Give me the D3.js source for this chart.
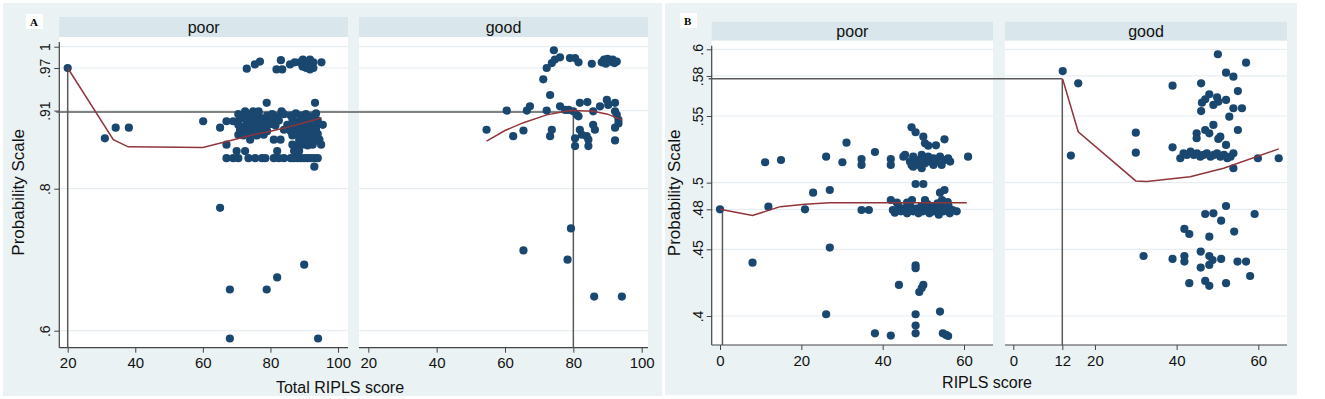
<!DOCTYPE html>
<html>
<head>
<meta charset="utf-8">
<script src="https://cdn.jsdelivr.net/npm/d3@7"></script>
<style>
  body { margin: 0; background: #ffffff; }
  svg text { font-family: "Liberation Sans", Arial, sans-serif; }
</style>
</head>
<body>
<div id="chart"></div>
<script>
// PLOT DEFAULTS
const SVG_WIDTH = 1325;
const SVG_HEIGHT = 399;
const BG_COLOR = '#eaf2f3';
const STRIP_COLOR = '#d9e6eb';
const GRID_COLOR = '#e6eef1';
const MARKER_COLOR = '#1a476f';
const FIT_COLOR = '#90353b';
const REF_COLOR = '#5a5a5a';

// DATA //
// panel A: total RIPLS score vs probability, by facet
const aXTicks = [20, 40, 60, 80, 100];
const aYTicks = [0.6, 0.8, 0.91, 0.97, 1];
const aPoor = [
  [20, .97], [31, .871], [34.2, .886], [38.1, .886], [60.1, .895], [65.1, .886], [67, .895], [69, .895],
  [73, .969], [75.4, .975], [76.9, .979], [81.8, .968], [83.5, .968], [83.1, .981], [85.8, .975],
  [87.2, .978], [88.7, .978], [89.6, .982], [90.6, .975], [91.7, .982], [92.7, .978], [90.6, .97],
  [91.7, .968], [92.7, .97], [95.1, .978], [89.5, .972],
  [78.9, .921], [93.2, .921], [72.5, .909], [74.9, .909], [83.3, .909], [76.5, .909],
  [70.5, .905], [72, .903], [73.5, .905], [75, .902], [76.5, .905], [79, .903], [80.5, .905], [82, .902],
  [84, .905], [86, .903], [87.5, .906], [89, .903], [90.5, .905], [92, .902], [93.5, .906],
  [71, .898], [73, .896], [74.5, .899], [76, .896], [77.5, .898], [79, .895], [81, .898], [82.5, .896],
  [86.5, .898], [88, .895], [89.5, .898], [91, .896], [92.5, .899], [94, .896],
  [70.5, .89], [72.5, .888], [74, .891], [75.5, .889], [77, .89], [78.5, .888], [80, .891], [81.5, .889],
  [85, .89], [86.5, .888], [88, .891], [89.5, .889], [91, .89], [92.5, .888], [94, .891], [95.5, .89],
  [71, .883], [72.5, .881], [74, .884], [76, .882], [77.5, .883], [79, .881], [84, .883], [86, .881],
  [87.5, .884], [89, .882], [90.5, .883], [92, .881], [93.5, .884],
  [70.5, .876], [72, .875], [74, .877], [76, .875], [78, .876], [86.5, .875], [88, .877], [89.5, .875],
  [91, .876], [92.5, .874], [94, .877],
  [74, .869], [81, .869], [83, .869], [88.5, .869], [90, .868], [91.5, .869], [93, .867], [94.5, .869],
  [67, .862], [86.5, .862], [88, .861], [89.5, .862], [91, .861], [92.5, .862], [95, .862],
  [70, .853], [72.5, .853], [82, .853], [87, .853], [88.5, .853],
  [67, .843], [69, .843], [70.5, .843], [73.5, .843], [75.5, .843], [77.5, .843], [78.5, .843], [81, .843],
  [82.5, .843], [84, .843], [86, .843], [87, .843], [88, .843], [89, .843], [90, .843], [91, .843],
  [92, .843], [93, .843], [94, .843], [93, .831],
  [65.1, .773], [68, .658], [78.9, .658], [82, .675], [90, .693], [68, .589], [94.1, .589]
];
const aGood = [
  [54.6, .883], [62.4, .874], [65.4, .882], [60.5, .91], [66.4, .91], [67.3, .916], [72.2, .91],
  [73.2, .874], [73.7, .883], [73.2, .932], [71.2, .954], [72.2, .97], [73.7, .977], [74.6, .982],
  [76.1, .985], [74.3, .995], [79, .984], [80.5, .984], [81.5, .978], [85.4, .976],
  [88.3, .978], [89, .982], [90, .983], [90.8, .979], [91.5, .982], [92, .977], [92.7, .979], [89.5, .976],
  [76.1, .916], [77.6, .911], [78.6, .911], [80, .909], [81, .904], [81.5, .902], [81.9, .921], [84.1, .922],
  [85.8, .909], [87.8, .916], [89.8, .925], [90.2, .918], [92.2, .921],
  [92.2, .909], [92.7, .904], [93.2, .897], [93.2, .892], [92.2, .886], [92.2, .868],
  [81.9, .883], [82.5, .876], [80.5, .871], [83.9, .874], [80.5, .86], [85.8, .89], [86.3, .883],
  [84.4, .869], [84.4, .86],
  [79.3, .744], [65.4, .713], [78.3, .70], [86.1, .648], [94.2, .648]
];
const aPoorFit = [
  [20, .97], [33.5, .869], [37.9, .859], [60, .858], [65, .864], [70, .870], [74.9, .876],
  [80, .881], [83.8, .885], [90, .893], [95.1, .90]
];
const aGoodFit = [
  [54.6, .867], [60, .882], [65.4, .893], [72.2, .904], [79, .91], [85.9, .909], [90, .905], [94.2, .897]
];
// reference cut-offs drawn on panel A
const aRefY = 0.908;
const aRefXPoor = 20;
const aRefYPoor = 0.97;
const aRefXGood = 80;

// panel B: RIPLS score vs probability, by facet
const bXTicksPoor = [0, 20, 40, 60];
const bXTicksGood = [0, 12, 20, 40, 60];
const bYTicks = [0.4, 0.45, 0.48, 0.5, 0.55, 0.58, 0.6];
const bPoor = [
  [0, .48], [8, .44], [11.1, .5153], [11.9, .482], [15, .517], [20.9, .48], [22.9, .4925], [26.1, .5195],
  [26.1, .4013], [27, .4945], [27, .4513], [30.1, .5153], [31.1, .530], [34.8, .5177], [34.8, .5133],
  [34.8, .4795], [36.6, .4795], [38.1, .523], [38.1, .387], [42, .5177], [42, .5133], [42, .3853],
  [44, .4233], [45.1, .5195], [47.1, .5415], [48.1, .5378], [50, .5345], [50.4, .5295], [51.2, .5277],
  [53.1, .528], [55.2, .5325], [61, .5195], [48.1, .499], [50, .499], [54.1, .4925], [55.2, .4945],
  [48.1, .438], [48.1, .4358], [50, .4233], [49.6, .421], [49, .418], [48.1, .4013], [48.1, .3928],
  [48.1, .387], [54.1, .4033], [54.8, .387], [55.6, .3858], [56.1, .385],
  [45.5, .5208], [46.7, .5158], [47.1, .5133], [47.5, .5195], [48.4, .517], [48.8, .5133], [49.6, .5208],
  [50, .5183], [50.4, .5145], [51.2, .5195], [51.6, .5158], [52.5, .5183], [53.3, .5158], [54.1, .5195],
  [54.5, .5133], [55.3, .517], [56.1, .5183], [56.6, .5158], [47.5, .512], [49.6, .5108], [52.5, .5133],
  [42, .487], [42.5, .4795], [43, .4775], [44, .482], [44.5, .4785], [45.5, .4805], [46, .477],
  [46.8, .4825], [47.2, .487], [47.5, .4785], [48.3, .4805], [48.8, .477], [49.5, .4825], [49.9, .4785],
  [50.4, .487], [50.8, .4805], [51.5, .477], [52, .4825], [52.6, .4785], [53.2, .4805], [53.8, .476],
  [54.3, .4825], [54.6, .487], [55, .4785], [55.6, .4805], [56.2, .4825], [56.5, .477], [57.2, .4795],
  [58.2, .4785], [43.5, .485], [46, .485], [51, .484], [53.5, .4845], [56, .4855]
];
const bGood = [
  [12.1, .5837], [15.9, .5745], [14.1, .5203], [30, .5375], [30, .5225], [39, .5727], [39, .5265],
  [46, .5745], [50.1, .5963], [57, .590], [52.1, .5825], [53.9, .5795], [55, .5687],
  [48, .5663], [47, .5625], [46.2, .56], [46, .5537], [49.9, .564], [50.2, .5607], [49, .5583],
  [52.1, .562], [53.9, .5558], [56, .5558], [52.9, .5495], [49, .5433], [47, .5395], [48, .537],
  [44.9, .537], [44.9, .5333], [50.7, .5345], [50.2, .5328], [55, .5395], [52.1, .5283],
  [40.9, .5183], [41.7, .522], [42.5, .5208], [43.4, .5233], [44.2, .5208], [45, .522], [45.8, .5195],
  [46.6, .5208], [47.4, .522], [48.3, .5195], [49.1, .5208], [49.9, .522], [50.7, .5195], [51.6, .5208],
  [52.4, .5183], [53.2, .5195], [53.9, .522], [53.9, .5108], [59.9, .5183], [65, .5183],
  [52.1, .4825], [47, .4765], [49, .477], [59.1, .4765], [50.9, .4715], [41.9, .4653], [43.1, .4615],
  [54.1, .4633], [48, .4595], [31.9, .445], [39, .4428], [41.9, .445], [41.9, .4408], [45.9, .4483],
  [48, .445], [48.8, .442], [48, .4383], [50.9, .4428], [54.9, .4408], [57, .4408], [45.9, .4363],
  [58, .430], [43.1, .4246], [47, .4263], [48, .4226], [52.1, .4246]
];
const bPoorFit = [
  [0, .48], [8, .4753], [14.8, .482], [20.9, .4838], [27, .485], [42.6, .485], [60.7, .485]
];
const bGoodFit = [
  [12.1, .5775], [15.9, .5382], [30, .5013], [32.7, .5008], [43.3, .5045], [51.5, .5108], [65, .5253]
];
// reference cut-offs drawn on panel B
const bRefY = 0.578;
const bRefXPoor = 0.6;
const bRefYPoor = 0.48;
const bRefXGood = 12;

// LAYOUT //
const PANELS = [
  {
    label: 'A', labelX: 30, labelY: 26, bg: [3, 3, 659, 393],
    top: 37, bottom: 347.7, stripTop: 17,
    yDomain: [0.6, 1], yRange: [330.7, 46.7], yTicks: aYTicks,
    yTitleX: 24, xTitle: 'Total RIPLS score', xTitleX: 340, xTitleY: 393,
    facets: [
      { name: 'poor', x0: 59.3, x1: 348, xDomain: [20, 100], xRange: [67.7, 338], xTicks: aXTicks, pts: aPoor, fit: aPoorFit },
      { name: 'good', x0: 359, x1: 648, xDomain: [20, 100], xRange: [368.3, 641.7], xTicks: aXTicks, pts: aGood, fit: aGoodFit }
    ],
    ref: { y: aRefY, xPoor: aRefXPoor, yPoor: aRefYPoor, xGood: aRefXGood }
  },
  {
    label: 'B', labelX: 684, labelY: 25, bg: [665, 3, 632, 392],
    top: 40.7, bottom: 345, stripTop: 21.7,
    yDomain: [0.4, 0.6], yRange: [316, 49.3], yTicks: bYTicks,
    yTitleX: 680, xTitle: 'RIPLS score', xTitleX: 987, xTitleY: 388,
    facets: [
      { name: 'poor', x0: 711.7, x1: 993, xDomain: [0, 60], xRange: [720, 964], xTicks: bXTicksPoor, pts: bPoor, fit: bPoorFit },
      { name: 'good', x0: 1005, x1: 1287, xDomain: [0, 60], xRange: [1013.3, 1258.3], xTicks: bXTicksGood, pts: bGood, fit: bGoodFit }
    ],
    ref: { y: bRefY, xPoor: bRefXPoor, yPoor: bRefYPoor, xGood: bRefXGood }
  }
];

const svg = d3.select('#chart')
  .append('svg')
  .attr('width', SVG_WIDTH)
  .attr('height', SVG_HEIGHT);

PANELS.forEach(drawPanel);

// function to draw one lettered panel with its two facets
function drawPanel (p) {
  const g = svg.append('g');

  // graph region background
  g.append('rect')
    .attr('x', p.bg[0]).attr('y', p.bg[1])
    .attr('width', p.bg[2]).attr('height', p.bg[3])
    .attr('fill', BG_COLOR);

  const yScale = d3.scaleLinear().domain(p.yDomain).range(p.yRange);
  const xScales = p.facets.map(f => d3.scaleLinear().domain(f.xDomain).range(f.xRange));

  p.facets.forEach((f, i) => {
    const xScale = xScales[i];

    // strip with facet name
    g.append('rect')
      .attr('x', f.x0).attr('y', p.stripTop)
      .attr('width', f.x1 - f.x0).attr('height', p.top - p.stripTop)
      .attr('fill', STRIP_COLOR);
    g.append('text')
      .attr('x', (f.x0 + f.x1) / 2).attr('y', (p.stripTop + p.top) / 2)
      .attr('text-anchor', 'middle').attr('dominant-baseline', 'central')
      .attr('font-size', 16).attr('fill', '#111')
      .text(f.name);

    // white plot region
    g.append('rect')
      .attr('x', f.x0).attr('y', p.top)
      .attr('width', f.x1 - f.x0).attr('height', p.bottom - p.top)
      .attr('fill', '#ffffff');

    // horizontal gridlines
    g.append('g').selectAll('line')
      .data(p.yTicks)
      .join('line')
      .attr('x1', f.x0).attr('x2', f.x1)
      .attr('y1', d => yScale(d)).attr('y2', d => yScale(d))
      .attr('stroke', GRID_COLOR).attr('stroke-width', 1.2);

    // x axis
    const xAxis = g.append('g')
      .attr('transform', `translate(0, ${p.bottom})`)
      .call(d3.axisBottom(xScale).tickValues(f.xTicks).tickFormat(d3.format('d')).tickSize(5).tickPadding(5));
    xAxis.select('.domain').remove();
    xAxis.selectAll('line').attr('stroke', '#444');
    xAxis.selectAll('text').attr('font-size', 15).attr('fill', '#111')
      .style('font-family', '"Liberation Sans", Arial, sans-serif');
    g.append('line')
      .attr('x1', f.x0).attr('x2', f.x1)
      .attr('y1', p.bottom).attr('y2', p.bottom)
      .attr('stroke', '#444').attr('stroke-width', 1.2);
  });

  // y axis on the left facet only, labels turned like Stata does
  const left = p.facets[0];
  const yAxis = g.append('g')
    .attr('transform', `translate(${left.x0}, 0)`)
    .call(d3.axisLeft(yScale).tickValues(p.yTicks).tickFormat(d => String(d).replace(/^0/, '')).tickSize(5));
  yAxis.select('.domain').remove();
  yAxis.selectAll('line').attr('stroke', '#444');
  yAxis.selectAll('text')
    .attr('transform', 'rotate(-90)')
    .attr('x', 0).attr('y', -9).attr('dy', 0)
    .attr('text-anchor', 'middle')
    .attr('font-size', 14).attr('fill', '#111')
    .style('font-family', '"Liberation Sans", Arial, sans-serif');
  g.append('line')
    .attr('x1', left.x0).attr('x2', left.x0)
    .attr('y1', p.top + 5).attr('y2', p.bottom)
    .attr('stroke', '#444').attr('stroke-width', 1.2);

  // reference cut-off lines
  const xPoor = xScales[0];
  const xGood = xScales[1];
  const refs = [
    [left.x0 - 3, yScale(p.ref.y), xGood(p.ref.xGood), yScale(p.ref.y)],
    [xGood(p.ref.xGood), yScale(p.ref.y), xGood(p.ref.xGood), p.bottom],
    [xPoor(p.ref.xPoor), yScale(p.ref.yPoor), xPoor(p.ref.xPoor), p.bottom]
  ];
  g.append('g').selectAll('line')
    .data(refs)
    .join('line')
    .attr('x1', d => d[0]).attr('y1', d => d[1])
    .attr('x2', d => d[2]).attr('y2', d => d[3])
    .attr('stroke', REF_COLOR).attr('stroke-width', 1.5);

  // scatter and fitted lines
  p.facets.forEach((f, i) => {
    const xScale = xScales[i];
    g.append('g').selectAll('circle')
      .data(f.pts)
      .join('circle')
      .attr('cx', d => xScale(d[0]))
      .attr('cy', d => yScale(d[1]))
      .attr('r', 4.1)
      .attr('fill', MARKER_COLOR);

    const line = d3.line().x(d => xScale(d[0])).y(d => yScale(d[1]));
    g.append('path')
      .datum(f.fit)
      .attr('d', line)
      .attr('fill', 'none')
      .attr('stroke', FIT_COLOR)
      .attr('stroke-width', 1.5);
  });

  // axis titles
  g.append('text')
    .attr('transform', `translate(${p.yTitleX}, ${(p.top + p.bottom) / 2}) rotate(-90)`)
    .attr('text-anchor', 'middle')
    .attr('font-size', 17).attr('fill', '#111')
    .text('Probability Scale');
  g.append('text')
    .attr('x', p.xTitleX).attr('y', p.xTitleY)
    .attr('text-anchor', 'middle')
    .attr('font-size', 16).attr('fill', '#111')
    .text(p.xTitle);

  // panel letter in its small white box
  g.append('rect')
    .attr('x', p.labelX - 4).attr('y', p.labelY - 12)
    .attr('width', 17).attr('height', 15)
    .attr('fill', '#ffffff');
  g.append('text')
    .attr('x', p.labelX).attr('y', p.labelY)
    .attr('font-size', 11).attr('font-weight', 'bold')
    .style('font-family', '"Liberation Serif", "Times New Roman", serif')
    .attr('fill', '#000')
    .text(p.label);
}
</script>
</body>
</html>
